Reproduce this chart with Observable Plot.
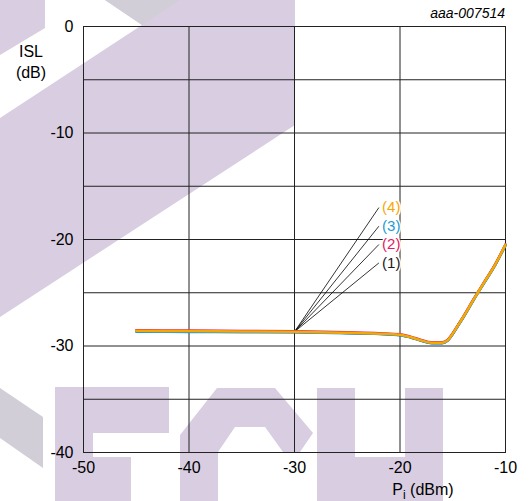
<!DOCTYPE html>
<html>
<head>
<meta charset="utf-8">
<script src="https://cdn.jsdelivr.net/npm/d3@7"></script>
<script src="https://cdn.jsdelivr.net/npm/@observablehq/plot@0.6"></script>
<style>
  html, body { margin: 0; padding: 0; background: #fff; }
  #wrap { position: relative; width: 529px; height: 501px; overflow: hidden; }
  #wm { position: absolute; left: 0; top: 0; }
  #chart { position: absolute; left: 0; top: 0; }
</style>
</head>
<body>
<div id="wrap">
  <svg id="wm" width="529" height="501"></svg>
  <div id="chart"></div>
</div>
<script>
// ---- data ----
const pin = [-45, -40, -35, -30, -25, -22, -20, -19, -18, -17, -16, -15.5, -15, -14.5, -14, -13, -12, -11, -10];
const isl1 = [-28.6, -28.62, -28.65, -28.68, -28.78, -28.86, -28.96, -29.18, -29.49, -29.71, -29.71, -29.49, -28.86, -28.08, -27.3, -25.62, -24.02, -22.42, -20.52];
const isl2 = [-28.52, -28.55, -28.58, -28.62, -28.72, -28.8, -28.9, -29.12, -29.43, -29.65, -29.65, -29.43, -28.8, -28.02, -27.24, -25.56, -23.96, -22.36, -20.46];
const isl3 = [-28.66, -28.68, -28.7, -28.72, -28.8, -28.88, -28.98, -29.2, -29.51, -29.73, -29.73, -29.51, -28.88, -28.1, -27.32, -25.64, -24.04, -22.44, -20.54];
const isl4 = [-28.57, -28.6, -28.63, -28.66, -28.76, -28.84, -28.94, -29.16, -29.47, -29.69, -29.69, -29.47, -28.84, -28.06, -27.28, -25.6, -24.0, -22.4, -20.5];
const seriesNames = ["(1)", "(2)", "(3)", "(4)"];
const seriesColors = ["#1a1a1a", "#e5195e", "#1b9ad6", "#f6a800"];
const labelY = [-22.2, -20.47, -18.75, -17.0];
const labelX = -21.7;
const leaderEndX = -22.0;
const leaderFrom = [-30, -28.66];
const xTicks = [-50, -40, -30, -20, -10];
const yTicks = [0, -10, -20, -30, -40];
const yGrid = [0, -5, -10, -15, -20, -25, -30, -35, -40];

const allSeries = [isl1, isl2, isl3, isl4];
const rows = allSeries.flatMap((ys, i) => pin.map((x, j) => ({x, y: ys[j], s: seriesNames[i], c: seriesColors[i]})));
const labels = seriesNames.map((t, i) => ({t, y: labelY[i], c: seriesColors[i]}));

// ---- watermark (decorative background) ----
const wm = d3.select("#wm");
const purple = "#d9cde1", grey = "#d2ced8";
const shapes = [
  {c: purple, p: [[0,0],[45,0],[45,28],[0,55]]},
  {c: purple, p: [[0,118],[142,25],[105,0],[295,0],[295,125],[0,317]]},
  {c: grey,   p: [[105,0],[180,0],[142,25]]},
  {c: grey,   p: [[0,388],[43,417],[43,468],[0,438]]},
  {c: purple, p: [[55,387],[169,387],[169,433],[93,433],[93,457],[131,457],[131,501],[55,501]]},
  {c: purple, p: [[180,501],[180,435],[217,388],[275,388],[313,433],[300,452],[283,452],[265,427],[235,427],[218,452],[218,501]]},
  {c: purple, p: [[317,388],[355,388],[355,457],[405,457],[405,388],[443,388],[443,501],[317,501]]}
];
shapes.forEach(s => wm.append("polygon").attr("points", s.p.map(d => d.join(",")).join(" ")).attr("fill", s.c));

// ---- chart ----
const font = "'Liberation Sans', Arial, sans-serif";
const chart = Plot.plot({
  width: 529, height: 501,
  marginLeft: 83, marginRight: 24, marginTop: 26, marginBottom: 49,
  x: {domain: [-50, -10]},
  y: {domain: [-40, 0]},
  style: {fontFamily: font, fontSize: "16px", background: "transparent", color: "#000"},
  marks: [
    Plot.gridX(xTicks, {stroke: "#222", strokeOpacity: 1, strokeWidth: 1}),
    Plot.gridY(yGrid, {stroke: "#222", strokeOpacity: 1, strokeWidth: 1}),
    Plot.frame({stroke: "#222", strokeWidth: 1}),
    Plot.axisX(xTicks, {tickSize: 0, tickPadding: 9, label: null, tickFormat: d => String(d), fontSize: 16}),
    Plot.axisY(yTicks, {tickSize: 0, tickPadding: 10, label: null, tickFormat: d => String(d), fontSize: 16}),
    Plot.link(labels, {x1: () => leaderFrom[0], y1: () => leaderFrom[1], x2: () => leaderEndX, y2: "y", stroke: "#000", strokeWidth: 0.8}),
    Plot.line(rows, {x: "x", y: "y", z: "s", stroke: "c", strokeWidth: 2.5, curve: "monotone-x"}),
    Plot.text(labels, {x: () => labelX, y: "y", text: "t", fill: "c", textAnchor: "start", fontSize: 15, stroke: "white", strokeWidth: 3, paintOrder: "stroke"})
  ]
});
document.getElementById("chart").appendChild(chart);

const svg = d3.select(chart);
const t = svg.append("g").attr("font-family", font).attr("fill", "#000");
t.append("text").attr("x", 31).attr("y", 57).attr("text-anchor", "middle").attr("font-size", 16).text("ISL");
t.append("text").attr("x", 31).attr("y", 78).attr("text-anchor", "middle").attr("font-size", 16).text("(dB)");
const xl = t.append("text").attr("x", 423).attr("y", 495).attr("text-anchor", "middle").attr("font-size", 16);
xl.append("tspan").text("P");
xl.append("tspan").attr("dy", 4).attr("font-size", 12).text("i");
xl.append("tspan").attr("dy", -4).text(" (dBm)");
t.append("text").attr("x", 505).attr("y", 18).attr("text-anchor", "end").attr("font-size", 14).attr("font-style", "italic").text("aaa-007514");
</script>
</body>
</html>
